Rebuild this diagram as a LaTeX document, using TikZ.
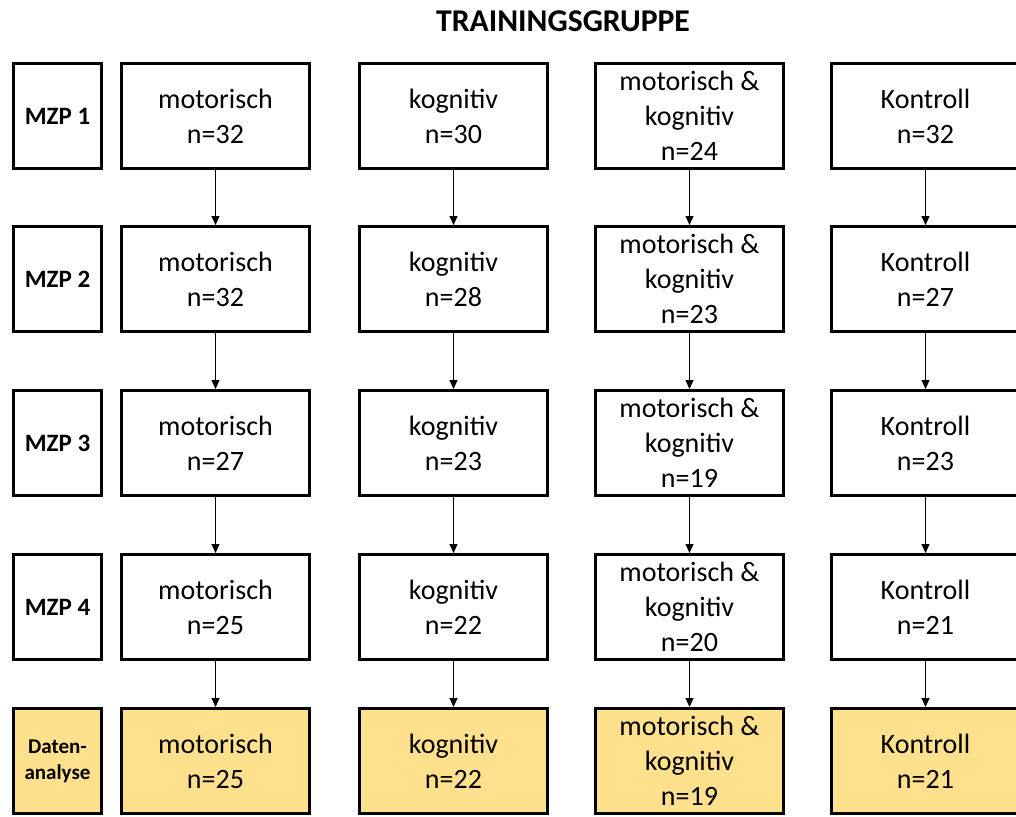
\documentclass[tikz,border=0pt]{standalone}
\usepackage{fontspec}
\setmainfont{Carlito}
\usetikzlibrary{arrows.meta}
\definecolor{analysefill}{HTML}{FFE08C}
\tikzset{
  groupbox/.style={draw=black, line width=3pt, fill=white, minimum width=188pt, minimum height=105pt,
    inner sep=0pt, align=center, font=\fontsize{28}{35}\selectfont},
  labelbox/.style={draw=black, line width=3pt, fill=white, minimum width=88pt, minimum height=105pt,
    inner sep=0pt, align=center, font=\fontsize{25}{30}\selectfont\bfseries},
  resultbox/.style={fill=analysefill},
  flow/.style={line width=1.1pt, -{Triangle[length=9pt,width=8pt]}},
}
\begin{document}
\begin{tikzpicture}[x=1pt,y=-1pt]
\useasboundingbox (0,0) rectangle (1016,816);
\node[font=\fontsize{31.7}{38}\selectfont\bfseries] (title) at (563,21) {TRAININGSGRUPPE};

% measurement points (rows) and the data-analysis row
\node[labelbox] (l1) at (57.5,116) {MZP 1};
\node[labelbox] (l2) at (57.5,279) {MZP 2};
\node[labelbox] (l3) at (57.5,443) {MZP 3};
\node[labelbox] (l4) at (57.5,607) {MZP 4};
\node[labelbox, resultbox, font=\fontsize{21}{26}\selectfont\bfseries] (l5) at (57.5,761) {Daten-\\analyse};

% motorisch
\node[groupbox] (m1) at (215.5,116) {motorisch\\n=32};
\node[groupbox] (m2) at (215.5,279) {motorisch\\n=32};
\node[groupbox] (m3) at (215.5,443) {motorisch\\n=27};
\node[groupbox] (m4) at (215.5,607) {motorisch\\n=25};
\node[groupbox, resultbox] (m5) at (215.5,761) {motorisch\\n=25};

% kognitiv
\node[groupbox] (k1) at (453.5,116) {kognitiv\\n=30};
\node[groupbox] (k2) at (453.5,279) {kognitiv\\n=28};
\node[groupbox] (k3) at (453.5,443) {kognitiv\\n=23};
\node[groupbox] (k4) at (453.5,607) {kognitiv\\n=22};
\node[groupbox, resultbox] (k5) at (453.5,761) {kognitiv\\n=22};

% motorisch & kognitiv
\node[groupbox] (mk1) at (689.5,116) {motorisch \&\\kognitiv\\n=24};
\node[groupbox] (mk2) at (689.5,279) {motorisch \&\\kognitiv\\n=23};
\node[groupbox] (mk3) at (689.5,443) {motorisch \&\\kognitiv\\n=19};
\node[groupbox] (mk4) at (689.5,607) {motorisch \&\\kognitiv\\n=20};
\node[groupbox, resultbox] (mk5) at (689.5,761) {motorisch \&\\kognitiv\\n=19};

% Kontroll
\node[groupbox] (c1) at (925.5,116) {Kontroll\\n=32};
\node[groupbox] (c2) at (925.5,279) {Kontroll\\n=27};
\node[groupbox] (c3) at (925.5,443) {Kontroll\\n=23};
\node[groupbox] (c4) at (925.5,607) {Kontroll\\n=21};
\node[groupbox, resultbox] (c5) at (925.5,761) {Kontroll\\n=21};

% follow-up arrows between measurement points
\foreach \g in {m,k,mk,c}{
  \foreach \a/\b in {1/2,2/3,3/4,4/5}{
    \draw[flow] (\g\a.south) -- (\g\b.north);
  }
}
\end{tikzpicture}
\end{document}
